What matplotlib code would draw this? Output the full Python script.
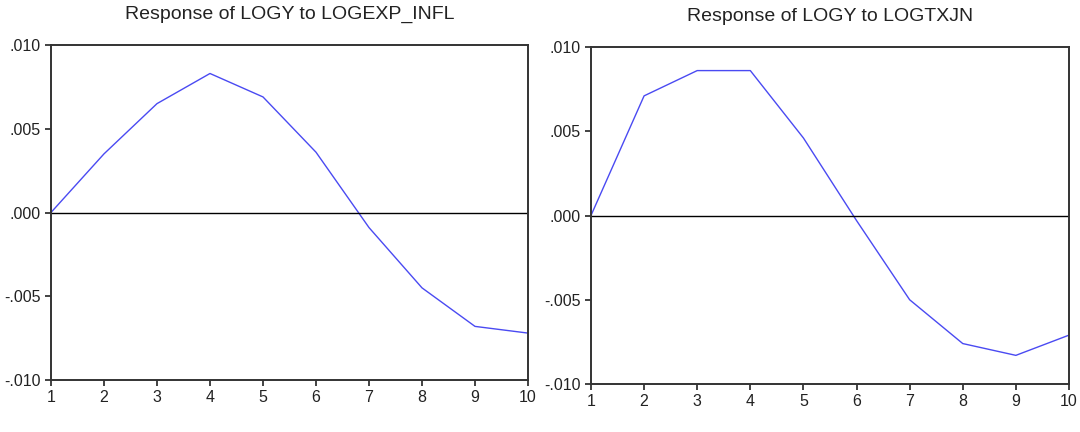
import matplotlib
matplotlib.use("Agg")
import matplotlib.pyplot as plt
from matplotlib.ticker import FuncFormatter

# impulse responses
periods = [1, 2, 3, 4, 5, 6, 7, 8, 9, 10]
resp_infl = [0.0, 0.0035, 0.0065, 0.0083, 0.0069, 0.0036, -0.0009, -0.0045, -0.0068, -0.0072]
resp_txjn = [0.0, 0.0071, 0.0086, 0.0086, 0.0046, -0.0003, -0.0050, -0.0076, -0.0083, -0.0071]
titles = ["Response of LOGY to LOGEXP_INFL", "Response of LOGY to LOGTXJN"]
yticks = [-0.010, -0.005, 0.0, 0.005, 0.010]

plt.rcParams['font.family'] = ['Liberation Sans', 'DejaVu Sans']


def fmt(v, pos):
    if abs(v) < 1e-12:
        return ".000"
    return ("%.3f" % v).replace("0.", ".", 1)


fig = plt.figure(figsize=(10.8, 4.32), dpi=100)
boxes = [[0.0472, 0.1204, 0.4417, 0.7754], [0.5472, 0.1111, 0.4426, 0.7801]]

for box, ys, title in zip(boxes, [resp_infl, resp_txjn], titles):
    ax = fig.add_axes(box)
    ax.plot(periods, ys, color="#4a4af2", lw=1.0)
    ax.axhline(0, color="black", lw=1.0)
    ax.set_xlim(1, 10)
    ax.set_ylim(-0.010, 0.010)
    ax.set_xticks(periods)
    ax.set_yticks(yticks)
    ax.yaxis.set_major_formatter(FuncFormatter(fmt))
    ax.tick_params(direction="out", length=4.5, width=1.2, labelsize=11.5, pad=3, colors="#222222")
    for sp in ax.spines.values():
        sp.set_linewidth(1.4)
        sp.set_color("#333333")
    ax.set_title(title, fontsize=14, pad=19, color="#222222")

fig.savefig("out.png", dpi=100)
